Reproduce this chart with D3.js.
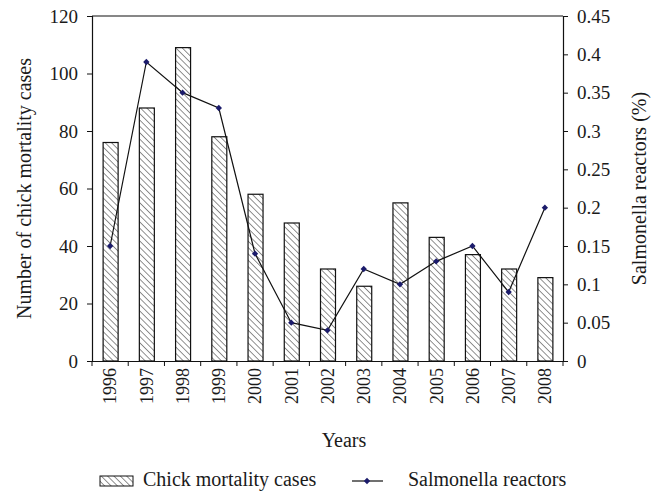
<!DOCTYPE html>
<html>
<head>
<meta charset="utf-8">
<script src="https://cdn.jsdelivr.net/npm/d3@7"></script>
<style>
  body { margin: 0; background: #fff; }
  text { font-family: "Liberation Serif", "DejaVu Serif", serif; fill: #1a1a1a; }
</style>
</head>
<body>
<svg id="chart" width="658" height="493"></svg>
<script>
let years = ['1996','1997','1998','1999','2000','2001','2002','2003','2004','2005','2006','2007','2008'];
let mortality = [76, 88, 109, 78, 58, 48, 32, 26, 55, 43, 37, 32, 29];
let reactors = [0.15, 0.39, 0.35, 0.33, 0.14, 0.05, 0.04, 0.12, 0.10, 0.13, 0.15, 0.09, 0.20];
let leftTicks = [0, 20, 40, 60, 80, 100, 120];
let rightTicks = [0, 0.05, 0.1, 0.15, 0.2, 0.25, 0.3, 0.35, 0.4, 0.45];

let svg = d3.select('#chart');
let pLeft = 92, pRight = 563, pTop = 16, pBottom = 361;
let fsTick = 19, fsYear = 18, fsTitle = 20;

let sx = d3.scaleBand().domain(years).range([pLeft, pRight]);
let sy = d3.scaleLinear().domain([0, 120]).range([pBottom, pTop]);
let sy2 = d3.scaleLinear().domain([0, 0.45]).range([pBottom, pTop]);

// hatch pattern
let defs = svg.append('defs');
let pat = defs.append('pattern')
  .attr('id', 'hatch')
  .attr('patternUnits', 'userSpaceOnUse')
  .attr('width', 4.5).attr('height', 4.5)
  .attr('patternTransform', 'rotate(-45)');
pat.append('rect').attr('width', 4.5).attr('height', 4.5).attr('fill', '#fff');
pat.append('line')
  .attr('x1', 0).attr('y1', 0).attr('x2', 0).attr('y2', 4.5)
  .attr('stroke', '#222').attr('stroke-width', 1);

// bars
let bw = 15;
svg.selectAll('.bar')
  .data(mortality)
  .enter()
  .append('rect')
  .attr('class', 'bar')
  .attr('x', (d,i)=>sx(years[i]) + sx.bandwidth()/2 - bw/2 + 0.5)
  .attr('y', d=>sy(d))
  .attr('width', bw)
  .attr('height', d=>pBottom - sy(d))
  .attr('fill', 'url(#hatch)')
  .attr('stroke', '#111')
  .attr('stroke-width', 1.2);

// axes
let axL = svg.append('g')
  .attr('transform', `translate(${pLeft},0)`)
  .call(d3.axisLeft(sy).tickValues(leftTicks).tickSize(5).tickPadding(9));
let axR = svg.append('g')
  .attr('transform', `translate(${pRight},0)`)
  .call(d3.axisRight(sy2).tickValues(rightTicks).tickSize(5).tickPadding(9).tickFormat(d=>String(+d.toFixed(2))));
let axB = svg.append('g')
  .attr('transform', `translate(0,${pBottom})`)
  .call(d3.axisBottom(sx).tickSize(5).tickSizeOuter(0));

// x ticks at band boundaries
axB.selectAll('.tick line').remove();
let bounds = years.map(y=>sx(y)).concat([pRight]);
axB.selectAll('.bound')
  .data(bounds)
  .enter()
  .append('line')
  .attr('class', 'bound')
  .attr('x1', d=>d).attr('x2', d=>d)
  .attr('y1', 0).attr('y2', 5)
  .attr('stroke', '#111');

[axL, axR, axB].forEach(a=>{
  a.selectAll('.domain').attr('stroke', '#111').attr('stroke-width', 1.2);
  a.selectAll('line').attr('stroke', '#111');
  a.selectAll('text').style('font-size', fsTick + 'px').style('font-family', '"Liberation Serif", serif').attr('fill', '#1a1a1a');
});

axB.selectAll('.tick text')
  .attr('transform', 'rotate(-90)')
  .attr('text-anchor', 'end')
  .attr('x', -7)
  .attr('y', 0)
  .attr('dy', '0.35em')
  .style('font-size', fsYear + 'px');

// top frame line
svg.append('line')
  .attr('x1', pLeft).attr('x2', pRight)
  .attr('y1', pTop).attr('y2', pTop)
  .attr('stroke', '#111').attr('stroke-width', 1.2);

// line series
let line = d3.line()
  .x((d,i)=>sx(years[i]) + sx.bandwidth()/2)
  .y(d=>sy2(d));
svg.append('path')
  .datum(reactors)
  .attr('d', line)
  .attr('fill', 'none')
  .attr('stroke', '#111')
  .attr('stroke-width', 1.2);

// small square turned 45deg as the marker
let marker = d3.symbol().type(d3.symbolSquare).size(20);
svg.selectAll('.pt')
  .data(reactors)
  .enter()
  .append('path')
  .attr('class', 'pt')
  .attr('d', marker)
  .attr('transform', (d,i)=>`translate(${sx(years[i]) + sx.bandwidth()/2},${sy2(d)}) rotate(45)`)
  .attr('fill', '#1b1b6b');

// axis titles
svg.append('text')
  .attr('transform', `translate(31,${(pTop+pBottom)/2}) rotate(-90)`)
  .attr('text-anchor', 'middle')
  .style('font-size', fsTitle + 'px')
  .text('Number of chick mortality cases');
svg.append('text')
  .attr('transform', `translate(646,${(pTop+pBottom)/2}) rotate(-90)`)
  .attr('text-anchor', 'middle')
  .style('font-size', fsTitle + 'px')
  .text('Salmonella reactors (%)');
svg.append('text')
  .attr('x', 344)
  .attr('y', 447)
  .attr('text-anchor', 'middle')
  .style('font-size', fsTitle + 'px')
  .text('Years');

// legend
svg.append('rect')
  .attr('x', 100).attr('y', 476)
  .attr('width', 33).attr('height', 10)
  .attr('fill', 'url(#hatch)')
  .attr('stroke', '#111').attr('stroke-width', 1);
svg.append('text')
  .attr('x', 143).attr('y', 486)
  .style('font-size', fsTitle + 'px')
  .text('Chick mortality cases');
svg.append('line')
  .attr('x1', 352).attr('x2', 383)
  .attr('y1', 481).attr('y2', 481)
  .attr('stroke', '#111').attr('stroke-width', 1.2);
svg.append('path')
  .attr('d', marker)
  .attr('transform', 'translate(367,481) rotate(45)')
  .attr('fill', '#1b1b6b');
svg.append('text')
  .attr('x', 408).attr('y', 486)
  .style('font-size', fsTitle + 'px')
  .text('Salmonella reactors');
</script>
</body>
</html>
